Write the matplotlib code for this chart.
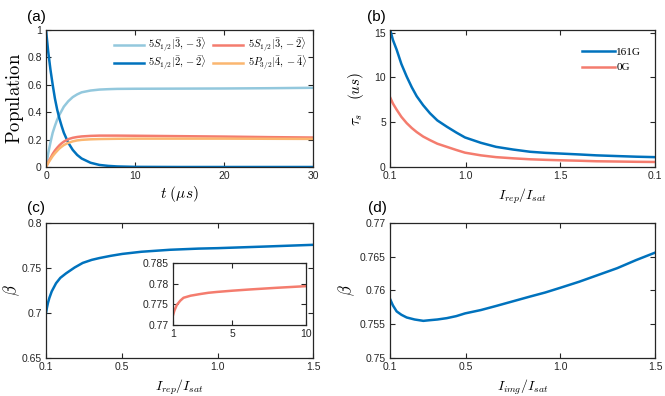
import matplotlib
matplotlib.use("Agg")
import matplotlib.pyplot as plt

plt.rcParams['font.family'] = ['Liberation Sans', 'DejaVu Sans']
plt.rcParams['mathtext.fontset'] = 'cm'
plt.rcParams['axes.edgecolor'] = '#262626'
plt.rcParams['xtick.color'] = '#262626'
plt.rcParams['ytick.color'] = '#262626'
plt.rcParams['xtick.direction'] = 'in'
plt.rcParams['ytick.direction'] = 'in'
plt.rcParams['xtick.top'] = True
plt.rcParams['ytick.right'] = True

dark_blue = '#0072BD'
light_blue = '#93C8DD'
red = '#F47C6E'
orange = '#FBB670'

# (a) populations vs time (us)
t_a = [0, 0.25, 0.5, 0.75, 1, 1.25, 1.5, 1.75, 2, 2.5, 3, 3.5, 4, 5, 6, 7, 8, 10, 15, 20, 25, 30]
pop_33 = [0, 0.1, 0.18, 0.25, 0.3, 0.345, 0.38, 0.41, 0.44, 0.48, 0.51, 0.53, 0.545, 0.558,
          0.565, 0.568, 0.57, 0.571, 0.572, 0.573, 0.575, 0.578]
pop_22 = [1, 0.84, 0.71, 0.6, 0.5, 0.42, 0.355, 0.3, 0.25, 0.177, 0.125, 0.088, 0.062, 0.031,
          0.015, 0.008, 0.004, 0.001, 0, 0, 0, 0]
pop_32 = [0, 0.035, 0.065, 0.095, 0.12, 0.14, 0.158, 0.173, 0.185, 0.203, 0.213, 0.219, 0.223,
          0.227, 0.229, 0.229, 0.229, 0.228, 0.225, 0.222, 0.218, 0.215]
pop_p44 = [0, 0.03, 0.055, 0.08, 0.1, 0.118, 0.135, 0.148, 0.16, 0.176, 0.187, 0.194, 0.198,
           0.202, 0.204, 0.205, 0.206, 0.207, 0.207, 0.207, 0.206, 0.205]

# (b) lifetime vs repump intensity
x_b = [0.1, 0.115, 0.135, 0.16, 0.188, 0.215, 0.241, 0.275, 0.311, 0.35, 0.4, 0.45, 0.496,
       0.58, 0.66, 0.75, 0.84, 0.92, 1.0, 1.1, 1.19, 1.3, 1.4, 1.5]
tau_161 = [15.4, 14.2, 13.1, 11.5, 10.1, 8.9, 7.9, 6.9, 6.0, 5.2, 4.5, 3.85, 3.3,
           2.7, 2.25, 1.95, 1.7, 1.58, 1.5, 1.4, 1.3, 1.22, 1.15, 1.1]
tau_0 = [7.8, 7.1, 6.4, 5.6, 4.9, 4.35, 3.9, 3.4, 3.0, 2.6, 2.25, 1.9, 1.6,
         1.3, 1.1, 0.97, 0.86, 0.8, 0.75, 0.7, 0.64, 0.61, 0.58, 0.56]

# (c) beta vs repump intensity, inset for large intensity
x_c = [0.1, 0.105, 0.11, 0.1175, 0.13, 0.1525, 0.175, 0.205, 0.25, 0.2925, 0.34, 0.38, 0.44,
       0.5, 0.6, 0.75, 0.9, 1.0, 1.25, 1.5]
beta_c = [0.7, 0.706, 0.711, 0.7167, 0.724, 0.733, 0.739, 0.744, 0.7505, 0.7556, 0.759, 0.761,
          0.7635, 0.7656, 0.768, 0.7702, 0.7715, 0.772, 0.7738, 0.7757]
x_in = [1, 1.1, 1.27, 1.5, 1.72, 2.2, 2.85, 3.4, 3.97, 5, 6.2, 8, 10]
beta_in = [0.7723, 0.7735, 0.7749, 0.7759, 0.7766, 0.7771, 0.7775, 0.7778, 0.778, 0.7783,
           0.7786, 0.779, 0.7794]

# (d) beta vs imaging intensity
x_d = [0.1, 0.115, 0.135, 0.16, 0.188, 0.23, 0.276, 0.311, 0.35, 0.4, 0.45, 0.496, 0.58,
       0.66, 0.75, 0.84, 0.92, 1.0, 1.1, 1.19, 1.3, 1.4, 1.5]
beta_d = [0.75875, 0.7578, 0.7569, 0.7564, 0.756, 0.7557, 0.7555, 0.7556, 0.7557, 0.7559,
          0.7562, 0.7566, 0.7571, 0.7577, 0.7584, 0.7591, 0.7597, 0.7604, 0.7613, 0.7622,
          0.7633, 0.7645, 0.7656]

fig = plt.figure(figsize=(6.65, 3.96), dpi=100)
ax_a = fig.add_axes([0.0692, 0.5783, 0.4015, 0.346])
ax_b = fig.add_axes([0.5865, 0.5783, 0.3985, 0.346])
ax_c = fig.add_axes([0.0692, 0.096, 0.4015, 0.341])
ax_d = fig.add_axes([0.5865, 0.096, 0.3985, 0.341])
ax_in = fig.add_axes([0.260, 0.179, 0.200, 0.157])

lw = 1.8
tick_fs = 7.5
i_fs = 10

# (a)
ax_a.plot(t_a, pop_33, color=light_blue, lw=lw, label=r'$5S_{1/2}|\bar{3},-\bar{3}\rangle$')
ax_a.plot(t_a, pop_22, color=dark_blue, lw=lw, label=r'$5S_{1/2}|\bar{2},-\bar{2}\rangle$')
ax_a.plot(t_a, pop_32, color=red, lw=lw, label=r'$5S_{1/2}|\bar{3},-\bar{2}\rangle$')
ax_a.plot(t_a, pop_p44, color=orange, lw=lw, label=r'$5P_{3/2}|\bar{4},-\bar{4}\rangle$')
ax_a.set_xlim(0, 30)
ax_a.set_ylim(0, 1)
ax_a.set_xticks([0, 10, 20, 30])
ax_a.set_yticks([0, 0.2, 0.4, 0.6, 0.8, 1])
ax_a.set_yticklabels(['0', '0.2', '0.4', '0.6', '0.8', '1'])
ax_a.set_xlabel(r'$t\ (\mu s)$', fontsize=11, labelpad=2)
ax_a.set_ylabel(r'$\mathrm{Population}$', fontsize=13.5, labelpad=1)
ax_a.legend(ncol=2, loc='upper right', frameon=False, fontsize=7.5,
            handlelength=2.9, columnspacing=0.6, handletextpad=0.4,
            labelspacing=-0.05, borderaxespad=0.2, bbox_to_anchor=(1.0, 1.0))

# (b)
ax_b.plot(x_b, tau_161, color=dark_blue, lw=lw, label='161G')
ax_b.plot(x_b, tau_0, color=red, lw=lw, label='0G')
ax_b.set_xlim(0.1, 1.5)
ax_b.set_ylim(0, 15.3)
ax_b.set_xticks([0.1, 0.5, 1.0, 1.5])
ax_b.set_xticklabels(['0.1', '1.0', '1.5', '0.1'])
ax_b.set_yticks([0, 5, 10, 15])
ax_b.set_xlabel(r'$I_{rep}/I_{sat}$', fontsize=i_fs, labelpad=4)
ax_b.set_ylabel(r'$\tau_s\ \ \ (us)$', fontsize=11, labelpad=6)
ax_b.legend(loc='upper right', frameon=False, prop={'family': 'Liberation Serif', 'size': 8},
            handlelength=3.0, handletextpad=0.1, labelspacing=0.55,
            bbox_to_anchor=(0.985, 0.95))

# (c)
ax_c.plot(x_c, beta_c, color=dark_blue, lw=lw)
ax_c.set_xlim(0.1, 1.5)
ax_c.set_ylim(0.65, 0.8)
ax_c.set_xticks([0.1, 0.5, 1.0, 1.5])
ax_c.set_xticklabels(['0.1', '0.5', '1.0', '1.5'])
ax_c.set_yticks([0.65, 0.7, 0.75, 0.8])
ax_c.set_yticklabels(['0.65', '0.7', '0.75', '0.8'])
ax_c.set_xlabel(r'$I_{rep}/I_{sat}$', fontsize=i_fs, labelpad=4)
ax_c.set_ylabel(r'$\beta$', fontsize=12, labelpad=0)

ax_in.plot(x_in, beta_in, color=red, lw=lw)
ax_in.set_xlim(1, 10)
ax_in.set_ylim(0.77, 0.785)
ax_in.set_xticks([1, 5, 10])
ax_in.set_yticks([0.77, 0.775, 0.78, 0.785])
ax_in.set_yticklabels(['0.77', '0.775', '0.78', '0.785'])

# (d)
ax_d.plot(x_d, beta_d, color=dark_blue, lw=lw)
ax_d.set_xlim(0.1, 1.5)
ax_d.set_ylim(0.75, 0.77)
ax_d.set_xticks([0.1, 0.5, 1.0, 1.5])
ax_d.set_xticklabels(['0.1', '0.5', '1.0', '1.5'])
ax_d.set_yticks([0.75, 0.755, 0.76, 0.765, 0.77])
ax_d.set_yticklabels(['0.75', '0.755', '0.76', '0.765', '0.77'])
ax_d.set_xlabel(r'$I_{img}/I_{sat}$', fontsize=i_fs, labelpad=4)
ax_d.set_ylabel(r'$\beta$', fontsize=12, labelpad=2)

for ax in [ax_a, ax_b, ax_c, ax_d, ax_in]:
    ax.tick_params(labelsize=tick_fs, length=3.5, width=0.8, pad=3)
    for s in ax.spines.values():
        s.set_linewidth(0.9)

fig.text(0.040, 0.957, '(a)', fontsize=11, va='center')
fig.text(0.552, 0.957, '(b)', fontsize=11, va='center')
fig.text(0.040, 0.475, '(c)', fontsize=11, va='center')
fig.text(0.553, 0.475, '(d)', fontsize=11, va='center')

fig.savefig('out.png', dpi=100)
